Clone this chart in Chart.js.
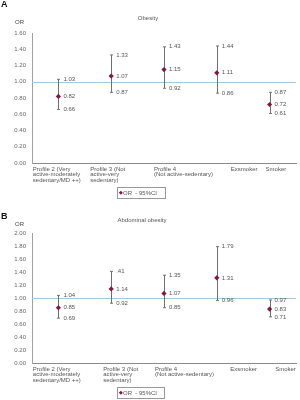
<!DOCTYPE html>
<html><head><meta charset="utf-8">
<script src="https://cdn.jsdelivr.net/npm/chart.js@4"></script>
<style>
html,body{margin:0;padding:0;background:#fff;width:300px;height:400px;overflow:hidden}
.p{position:absolute;left:0;width:300px;height:200px}
</style></head><body>
<div class="p" style="top:0"><canvas id="cA" width="300" height="200"></canvas></div>
<div class="p" style="top:200px"><canvas id="cB" width="300" height="200"></canvas></div>
<script>
// ---- data ----
const categories = ['Profile 2', 'Profile 3', 'Profile 4', 'Exsmoker', 'Smoker'];
const categoryLines = [
  ['Profile 2 (Very', 'active-moderately', 'sedentary/MD ++)'],
  ['Profile 3 (Not', 'active-very', 'sedentary)'],
  ['Profile 4', '(Not active-sedentary)'],
  ['Exsmoker'],
  ['Smoker']
];
const obesityOR   = [0.82, 1.07, 1.15, 1.11, 0.72];
const obesityLow  = [0.66, 0.87, 0.92, 0.86, 0.61];
const obesityHigh = [1.03, 1.33, 1.43, 1.44, 0.87];
const obesityHighText = ['1.03', '1.33', '1.43', '1.44', '0.87'];
const abdOR   = [0.85, 1.14, 1.07, 1.31, 0.83];
const abdLow  = [0.69, 0.92, 0.85, 0.96, 0.71];
const abdHigh = [1.04, 1.41, 1.35, 1.79, 0.97];
const abdHighText = ['1.04', '.41', '1.35', '1.79', '0.97'];
const obesityTickMax = 1.6;
const abdTickMax = 2.0;
const tickStep = 0.2;

const FONT = '"Liberation Sans", Arial, sans-serif';

const errPlugin = {
  id: 'errPlugin',
  beforeDatasetsDraw(chart) {
    const o = chart.options.plugins.errPlugin;
    const {ctx, chartArea} = chart;
    const xs = chart.scales.x, ys = chart.scales.y;
    ctx.save();
    // reference line at OR = 1
    const y1 = Math.round(ys.getPixelForValue(1)) + 0.5;
    ctx.strokeStyle = '#a6c8da';
    ctx.lineWidth = 1;
    ctx.beginPath(); ctx.moveTo(chartArea.left, y1); ctx.lineTo(chartArea.right, y1); ctx.stroke();
    // whiskers
    ctx.strokeStyle = '#707070';
    o.low.forEach((lo, i) => {
      const x = Math.round(xs.getPixelForValue(i)) + 0.5;
      const yl = ys.getPixelForValue(lo), yh = ys.getPixelForValue(o.high[i]);
      ctx.beginPath();
      ctx.moveTo(x, yl); ctx.lineTo(x, yh);
      ctx.moveTo(x - 1.5, yl); ctx.lineTo(x + 1.5, yl);
      ctx.moveTo(x - 1.5, yh); ctx.lineTo(x + 1.5, yh);
      ctx.stroke();
    });
    ctx.restore();
  },
  afterDraw(chart) {
    const o = chart.options.plugins.errPlugin;
    const {ctx, chartArea} = chart;
    const xs = chart.scales.x, ys = chart.scales.y;
    ctx.save();
    ctx.textBaseline = 'middle';
    ctx.textAlign = 'left';
    ctx.fillStyle = '#555';
    ctx.font = '6px ' + FONT;
    // value labels
    o.low.forEach((lo, i) => {
      const x = xs.getPixelForValue(i) + 5;
      ctx.fillText(o.highText[i], x, ys.getPixelForValue(o.high[i]));
      ctx.fillText(o.or[i].toFixed(2), x, ys.getPixelForValue(o.or[i]));
      ctx.fillText(lo.toFixed(2), x, ys.getPixelForValue(lo));
    });
    // category labels
    categoryLines.forEach((lines, i) => {
      const x = xs.getPixelForValue(i) + o.labelDx[i];
      lines.forEach((t, j) => ctx.fillText(t, x, chartArea.bottom + 6 + j * 5.6));
    });
    // OR axis label
    ctx.fillStyle = '#444';
    ctx.fillText('OR', 15, o.orY);
    // title
    ctx.textAlign = 'center';
    ctx.fillStyle = '#555';
    ctx.fillText(o.title, o.titleX, o.titleY);
    // panel letter
    ctx.textAlign = 'left';
    ctx.fillStyle = '#111';
    ctx.font = 'bold 9px ' + FONT;
    ctx.fillText(o.letter, 1, o.letterY);
    // legend
    ctx.strokeStyle = '#999';
    ctx.lineWidth = 1;
    ctx.strokeRect(117.5, 187.5, o.legendW, 11);
    ctx.fillStyle = '#8a1538';
    ctx.beginPath();
    ctx.moveTo(120.8, 190.8); ctx.lineTo(122.8, 192.8); ctx.lineTo(120.8, 194.8); ctx.lineTo(118.8, 192.8);
    ctx.closePath(); ctx.fill();
    ctx.fillStyle = '#555';
    ctx.font = '6px ' + FONT;
    ctx.textBaseline = 'middle';
    ctx.fillText('OR', 123, 193);
    ctx.fillText('-', 135, 193);
    ctx.fillText('95%CI', 139, 193);
    ctx.restore();
  }
};

function makeChart(id, cfg) {
  new Chart(document.getElementById(id), {
    type: 'line',
    data: {
      labels: categories,
      datasets: [{
        data: cfg.or,
        showLine: false,
        pointStyle: 'rectRot',
        pointRadius: 2.6,
        pointBackgroundColor: '#8a1538',
        pointBorderColor: '#8a1538',
        pointBorderWidth: 0
      }]
    },
    options: {
      responsive: false,
      animation: false,
      events: [],
      layout: {padding: {top: 33, right: 2, bottom: 37, left: 0}},
      plugins: {
        legend: {display: false},
        tooltip: {enabled: false},
        errPlugin: cfg
      },
      scales: {
        x: {
          type: 'category',
          offset: true,
          grid: {display: false, drawTicks: false},
          border: {display: true, color: '#8a8a8a', width: 1},
          ticks: {display: false},
          afterFit: s => { s.height = 0; }
        },
        y: {
          min: 0, max: cfg.tickMax,
          grid: {display: false, drawTicks: false, tickLength: 0},
          border: {display: true, color: '#a0a0a0', width: 1},
          ticks: {
            stepSize: tickStep,
            padding: 6,
            color: '#666',
            font: {family: FONT, size: 6},
            callback: v => Number(v).toFixed(2)
          },
          afterFit: s => { s.width = 32; }
        }
      }
    },
    plugins: [errPlugin]
  });
}

makeChart('cA', {
  or: obesityOR, low: obesityLow, high: obesityHigh, highText: obesityHighText,
  tickMax: obesityTickMax, title: 'Obesity', titleX: 148, titleY: 18,
  letter: 'A', letterY: 5, orY: 22, legendW: 48,
  labelDx: [-25.6, -21, -10, 14, -4]
});
makeChart('cB', {
  or: abdOR, low: abdLow, high: abdHigh, highText: abdHighText,
  tickMax: abdTickMax, title: 'Abdominal obesity', titleX: 142, titleY: 20,
  letter: 'B', letterY: 17, orY: 24, legendW: 47,
  labelDx: [-25.6, -8, -9, 13.5, 5.6]
});
</script>
</body></html>
